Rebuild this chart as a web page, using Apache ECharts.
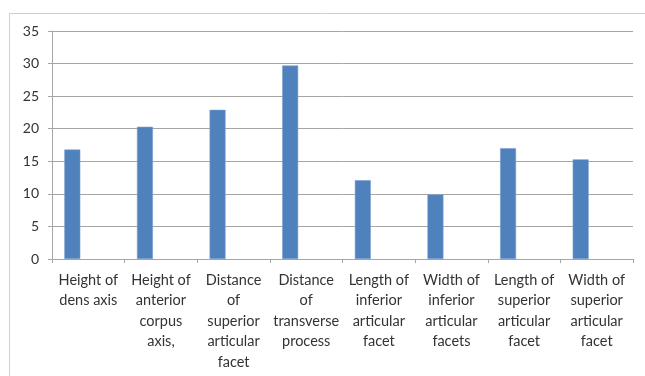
<!DOCTYPE html>
<html>
<head>
<meta charset="utf-8">
<script src="https://cdn.jsdelivr.net/npm/echarts@6/dist/echarts.min.js"></script>
<style>
  html, body { margin: 0; padding: 0; background: #fff; }
  #chart { width: 645px; height: 376px; }
</style>
</head>
<body>
<div id="chart"></div>
<script>
// Axis measurements (mm) of the second cervical vertebra
const categories = [
  'Height of\ndens axis',
  'Height of\nanterior\ncorpus\naxis,',
  'Distance\nof\nsuperior\narticular\nfacet',
  'Distance\nof\ntransverse\nprocess',
  'Length of\ninferior\narticular\nfacet',
  'Width of\ninferior\narticular\nfacets',
  'Length of\nsuperior\narticular\nfacet',
  'Width of\nsuperior\narticular\nfacet'
];
const values = [16.8, 20.3, 22.9, 29.7, 12.1, 9.9, 17.0, 15.3];
const yTicks = [0, 5, 10, 15, 20, 25, 30, 35];

// the workbook's two unused columns still reserve slots in each cluster
const emptySlot = categories.map(() => null);

const textColor = '#333333';
const lineColor = '#a6a6a6';
const font = 'Lato, "Open Sans", sans-serif';

const chart = echarts.init(document.getElementById('chart'), null, { renderer: 'canvas' });
chart.setOption({
  animation: false,
  graphic: [{
    type: 'rect',
    shape: { x: 9.5, y: 13.5, width: 700, height: 420 },
    style: { fill: 'none', stroke: '#cfcfcf', lineWidth: 1 },
    silent: true,
    z: -1
  }],
  grid: { left: 52, right: 12, top: 31, bottom: 117, containLabel: false },
  xAxis: {
    type: 'category',
    data: categories,
    axisLine: { lineStyle: { color: lineColor, width: 1 } },
    axisTick: { show: true, length: 4, alignWithLabel: false, lineStyle: { color: lineColor } },
    axisLabel: {
      interval: 0,
      color: textColor,
      fontFamily: font,
      fontSize: 14.5,
      lineHeight: 20.5,
      margin: 11,
      align: 'center'
    }
  },
  yAxis: {
    type: 'value',
    min: yTicks[0],
    max: yTicks[yTicks.length - 1],
    interval: yTicks[1] - yTicks[0],
    axisLine: { show: true, lineStyle: { color: lineColor, width: 1 } },
    axisTick: { show: true, length: 4, lineStyle: { color: lineColor } },
    axisLabel: { color: textColor, fontFamily: font, fontSize: 14, margin: 13 },
    splitLine: { show: true, lineStyle: { color: lineColor, width: 1 } }
  },
  series: [
    {
      type: 'bar',
      data: values,
      barWidth: 16,
      barGap: '0%',
      itemStyle: { color: '#4f81bd', borderColor: '#7aa0d0', borderWidth: 0.6 }
    },
    { type: 'bar', data: emptySlot, barWidth: 16, barGap: '0%' },
    { type: 'bar', data: emptySlot, barWidth: 16, barGap: '0%' }
  ]
});
</script>
</body>
</html>
